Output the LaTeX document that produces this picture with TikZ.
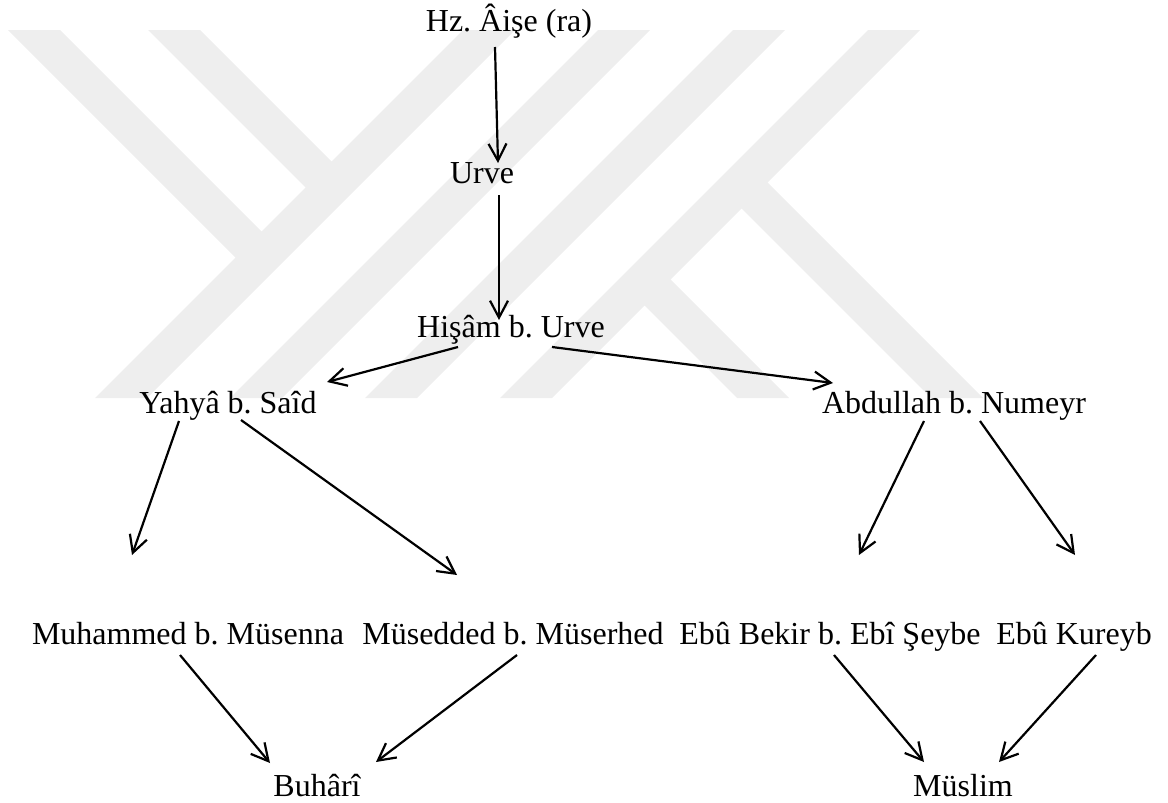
\documentclass[tikz,border=0pt]{standalone}
\usepackage{fontspec}
\setmainfont{Liberation Serif}
\newfontfamily\tnrfont{Liberation Serif}
\usetikzlibrary{arrows.meta}

\definecolor{filigran}{RGB}{238,238,238}
\frenchspacing

\begin{document}
\begin{tikzpicture}[x=0.5pt, y=-0.5pt,
        ravi/.style={inner sep=0pt, anchor=base, font=\tnrfont\fontsize{16}{19}\selectfont},
        isnad/.style={line width=1.1pt, -{Straight Barb[length=8.5pt, width=9pt]}}]

        \useasboundingbox (0,0) rectangle (1168,803);

        % logo in the background
        \foreach \a/\b/\c/\d in {{8,30}/{60,30}/{265,235}/{239,261},
                                 {148,30}/{200,30}/{335,165}/{309,191},
                                 {463,30}/{515,30}/{147,398}/{95,398},
                                 {598,30}/{650,30}/{282,398}/{230,398},
                                 {733,30}/{785,30}/{417,398}/{365,398},
                                 {868,30}/{920,30}/{552,398}/{500,398},
                                 {739,206}/{765,180}/{983,398}/{931,398},
                                 {642,303}/{668,277}/{789,398}/{737,398}}
            {
                \fill[filigran] (\a) -- (\b) -- (\c) -- (\d) -- cycle;
            }

        \node[name=hz, ravi] at (509,32) {Hz. Âişe (ra)};
        \node[name=urve, ravi] at (482,183) {Urve};
        \node[name=hisam, ravi] at (511,337) {Hişâm b. Urve};
        \node[name=yahya, ravi] at (228,413) {Yahyâ b. Saîd};
        \node[name=abdullah, ravi] at (954,413) {Abdullah b. Numeyr};
        \node[name=muhammed, ravi] at (188,644) {Muhammed b. Müsenna};
        \node[name=musedded, ravi] at (513,644) {Müsedded b. Müserhed};
        \node[name=ebubekir, ravi] at (830,644) {Ebû Bekir b. Ebî Şeybe};
        \node[name=kureyb, ravi] at (1074,644) {Ebû Kureyb};
        \node[name=buhari, ravi] at (317,796) {Buhârî};
        \node[name=muslim, ravi] at (963,796) {Müslim};

        \foreach \src/\ps/\dst/\pd in {hz/{-14,15}/urve/{16,-20},
                                       urve/{17,12}/hisam/{-12,-17},
                                       hisam/{-53,10}/yahya/{99,-31},
                                       hisam/{41,10}/abdullah/{-121,-30},
                                       yahya/{-49,8}/muhammed/{-56,-89},
                                       yahya/{13,7}/musedded/{-56,-69},
                                       abdullah/{-30,8}/ebubekir/{29,-89},
                                       abdullah/{26,8}/kureyb/{1,-89},
                                       muhammed/{-8,11}/buhari/{-47,-33},
                                       musedded/{4,11}/buhari/{59,-34},
                                       ebubekir/{4,11}/muslim/{-39,-34},
                                       kureyb/{22,11}/muslim/{36,-34}}
            {
                \draw[isnad] ([shift={(\ps)}]\src.base) -- ([shift={(\pd)}]\dst.base);
            }
    \end{tikzpicture}
\end{document}
